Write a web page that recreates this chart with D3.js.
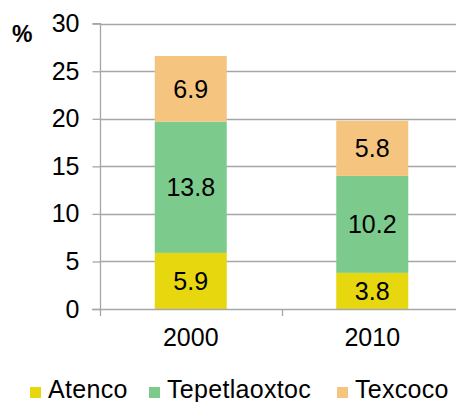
<!DOCTYPE html>
<html>
<head>
<meta charset="utf-8">
<script src="https://cdn.jsdelivr.net/npm/d3@7"></script>
<style>
  body { margin: 0; background: #fff; }
  text { font-family: "Liberation Sans", Arial, sans-serif; fill: #000; }
</style>
</head>
<body>
<div id="chart"></div>
<script>
// chart values
const years = ["2000", "2010"];
const municipios = ["Atenco", "Tepetlaoxtoc", "Texcoco"];
const atenco = [5.9, 3.8];
const tepetlaoxtoc = [13.8, 10.2];
const texcoco = [6.9, 5.8];
const yTicks = [0, 5, 10, 15, 20, 25, 30];

const colors = ["#e6d70f", "#7ccb8d", "#f5c47e"];
const fontSize = 25;

const width = 456, height = 402;
const svg = d3.select("#chart").append("svg")
    .attr("width", width)
    .attr("height", height);

// build rows for the stack layout
const rows = years.map((y, i) => ({
    year: y,
    Atenco: atenco[i],
    Tepetlaoxtoc: tepetlaoxtoc[i],
    Texcoco: texcoco[i]
}));
const series = d3.stack().keys(municipios)(rows);

const x = d3.scaleBand()
    .domain(years)
    .range([100, 463])
    .paddingInner(0)
    .paddingOuter(0);

const y = d3.scaleLinear()
    .domain([0, 30])
    .range([309, 23.7]);

const barW = 72;

// gridlines
svg.append("g")
    .selectAll("line")
    .data(yTicks.filter(d => d > 0))
    .join("line")
    .attr("x1", 100)
    .attr("x2", width)
    .attr("y1", d => Math.round(y(d)) + 0.5)
    .attr("y2", d => Math.round(y(d)) + 0.5)
    .attr("stroke", "#a6a6a6")
    .attr("stroke-width", 1.3);

// stacked bars
const groups = svg.append("g")
    .selectAll("g")
    .data(series)
    .join("g")
    .attr("fill", (d, i) => colors[i]);

groups.selectAll("rect")
    .data(d => d)
    .join("rect")
    .attr("x", d => x(d.data.year) + x.bandwidth() / 2 - barW / 2)
    .attr("width", barW)
    .attr("y", d => y(d[1]))
    .attr("height", d => y(d[0]) - y(d[1]));

// data labels
groups.selectAll("text")
    .data(d => d)
    .join("text")
    .attr("x", d => x(d.data.year) + x.bandwidth() / 2)
    .attr("y", d => y((d[0] + d[1]) / 2))
    .attr("dy", "0.36em")
    .attr("text-anchor", "middle")
    .attr("font-size", fontSize)
    .text(d => d3.format(".1f")(d[1] - d[0]));

// y axis
const yAxis = svg.append("g")
    .attr("transform", "translate(100.5,0)")
    .call(d3.axisLeft(y).tickValues(yTicks).tickSize(8).tickPadding(13));
yAxis.select(".domain").attr("stroke", "#a6a6a6").attr("stroke-width", 1.3)
    .attr("d", "M-8," + y(30) + "H0V" + y(0));
yAxis.selectAll(".tick line").attr("stroke", "#a6a6a6").attr("stroke-width", 1.3);
yAxis.selectAll(".tick text")
    .attr("font-size", fontSize)
    .attr("font-family", "Liberation Sans, Arial, sans-serif")
    .attr("fill", "#000");

// x axis
const xAxis = svg.append("g")
    .attr("transform", "translate(0," + (Math.round(y(0)) + 0.5) + ")")
    .call(d3.axisBottom(x).tickSize(0).tickPadding(19));
xAxis.select(".domain").attr("stroke", "#a6a6a6").attr("stroke-width", 1.3)
    .attr("d", "M92,0H" + width);
xAxis.selectAll(".tick text")
    .attr("font-size", fontSize)
    .attr("font-family", "Liberation Sans, Arial, sans-serif")
    .attr("fill", "#000");

// category dividers on x axis
svg.append("g")
    .selectAll("line")
    .data(years)
    .join("line")
    .attr("x1", d => Math.round(x(d)) + 0.5)
    .attr("x2", d => Math.round(x(d)) + 0.5)
    .attr("y1", y(0))
    .attr("y2", y(0) + 7)
    .attr("stroke", "#a6a6a6")
    .attr("stroke-width", 1.3);

// unit label
svg.append("text")
    .attr("x", 12)
    .attr("y", 41.5)
    .attr("font-size", 23)
    .attr("font-weight", "bold")
    .text("%");

// legend
const legendX = [30, 149, 337];
const legend = svg.append("g")
    .selectAll("g")
    .data(municipios)
    .join("g")
    .attr("transform", (d, i) => "translate(" + legendX[i] + ",387)");
legend.append("rect")
    .attr("width", 11)
    .attr("height", 11)
    .attr("fill", (d, i) => colors[i]);
legend.append("text")
    .attr("x", 18)
    .attr("y", 11)
    .attr("font-size", fontSize)
    .attr("letter-spacing", 0.3)
    .text(d => d);
</script>
</body>
</html>
